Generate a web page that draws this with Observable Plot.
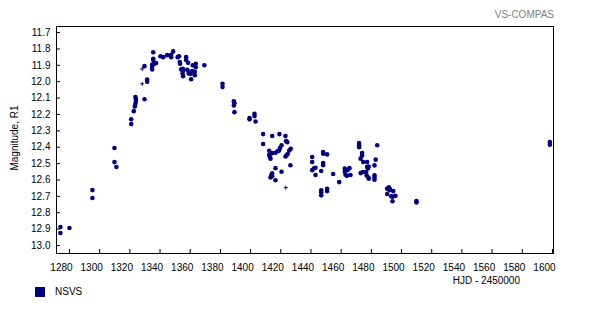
<!DOCTYPE html>
<html><head><meta charset="utf-8">
<script src="https://cdn.jsdelivr.net/npm/d3@7"></script>
<script src="https://cdn.jsdelivr.net/npm/@observablehq/plot@0.6"></script>
<style>
body{margin:0;background:#fff;font-family:"Liberation Sans",Arial,sans-serif;}
#wrap{position:relative;width:600px;height:310px;overflow:hidden;}
.t{position:absolute;font-size:10px;white-space:nowrap;line-height:12px;color:#000;}
</style></head><body><div id="wrap"></div>
<script>
// Observations (NSVS): HJD - 2450000 and R1 magnitude
const hjd = [1279.3,1279.3,1285.3,1300.5,1300.5,1315.1,1315.1,1316.4,1326.2,1326.2,1327.9,1328.6,1329.0,1329.0,1329.3,1329.3,1335.0,1335.0,1336.8,1336.8,
1340.8,1340.8,1340.8,1340.1,1340.1,1340.1,1341.6,1342.7,1345.6,1347.4,1350.0,1352.7,1352.7,1354.0,1357.0,1357.9,1358.4,1358.6,1359.3,1360.4,
1360.4,1360.6,1360.2,1362.6,1362.6,1363.9,1363.3,1364.3,1364.3,1365.5,1365.9,1366.6,1367.0,1368.3,1368.3,1369.0,1369.0,1374.7,1386.7,1386.7,
1394.2,1394.6,1394.2,1394.6,1404.6,1404.6,1407.9,1407.9,1408.6,1413.6,1413.6,1419.6,1424.4,1428.4,1429.6,1428.8,1425.8,1424.8,1424.2,1431.9,
1430.9,1429.9,1429.1,1428.4,1423.3,1421.8,1419.6,1417.6,1417.6,1418.0,1418.5,1431.7,1421.8,1425.8,1419.6,1419.0,1418.5,1419.6,1421.8,1446.1,
1446.1,1446.1,1447.2,1448.3,1448.3,1453.4,1453.4,1456.0,1453.4,1453.4,1452.1,1452.1,1452.1,1452.1,1456.0,1456.0,1460.0,1464.0,1467.7,1469.5,
1470.8,1467.7,1468.2,1469.1,1471.5,1477.2,1477.2,1477.2,1479.2,1479.2,1478.2,1479.9,1482.5,1482.5,1483.0,1483.6,1478.2,1479.7,1481.9,1482.2,
1483.3,1483.6,1487.4,1487.4,1487.4,1487.4,1488.2,1489.2,1495.8,1497.6,1497.0,1497.3,1495.8,1499.8,1498.5,1499.3,1501.3,1499.3,1515.2,1515.2,
1603.6,1603.6];
const mag = [12.887,12.924,12.893,12.662,12.710,12.405,12.491,12.521,12.229,12.259,12.180,12.151,12.135,12.094,12.105,12.118,12.107,11.905,11.987,12.000,
11.820,11.860,11.868,11.895,11.910,11.925,11.890,11.886,11.845,11.850,11.838,11.836,11.850,11.815,11.850,11.845,11.880,11.890,11.925,11.922,
11.935,11.966,11.950,11.850,11.868,11.885,11.927,11.940,11.950,11.952,11.985,11.935,11.900,11.940,11.960,11.890,11.912,11.900,12.013,12.033,
12.120,12.132,12.145,12.186,12.222,12.230,12.196,12.210,12.243,12.320,12.380,12.332,12.320,12.332,12.369,12.363,12.388,12.405,12.420,12.410,
12.420,12.442,12.450,12.457,12.424,12.434,12.436,12.422,12.446,12.458,12.470,12.510,12.528,12.550,12.560,12.572,12.585,12.578,12.602,12.460,
12.490,12.540,12.530,12.525,12.570,12.430,12.440,12.444,12.497,12.510,12.545,12.663,12.675,12.694,12.654,12.668,12.564,12.613,12.530,12.540,
12.528,12.550,12.568,12.575,12.570,12.375,12.388,12.400,12.436,12.450,12.470,12.490,12.490,12.520,12.530,12.518,12.558,12.552,12.552,12.572,
12.585,12.592,12.572,12.585,12.598,12.511,12.476,12.388,12.653,12.655,12.645,12.663,12.686,12.668,12.700,12.702,12.697,12.730,12.729,12.737,
12.369,12.385];
// uncertain observations drawn as small crosses
const crossHjd = [1333.5,1333.5,1428.6];
const crossMag = [11.922,12.013,12.647];
const xTicks = [1280,1300,1320,1340,1360,1380,1400,1420,1440,1460,1480,1500,1520,1540,1560,1580,1600];
const yTicks = [11.7,11.8,11.9,12.0,12.1,12.2,12.3,12.4,12.5,12.6,12.7,12.8,12.9,13.0];
const seriesName = "NSVS";
const title = "VS-COMPAS";
const xLabel = "HJD - 2450000";
const yLabel = "Magnitude, R1";

const pts = hjd.map((x,i)=>({x, y: mag[i]}));
const crosses = crossHjd.map((x,i)=>({x, y: crossMag[i]}));
const navy = "#000080";
const W = 600, H = 310, mL = 56, mR = 47, mT = 26, mB = 57;
const fw = W - mL - mR, fh = H - mT - mB;

const chart = Plot.plot({
  width: W, height: H,
  marginLeft: mL, marginRight: mR, marginTop: mT, marginBottom: mB,
  style: {fontFamily: '"Liberation Sans", Arial, sans-serif', fontSize: "10px", color: "#000", background: "#fff"},
  x: {domain: [1276.7, 1606]},
  y: {domain: [11.663, 13.049], reverse: true},
  marks: [
    Plot.axisX({ticks: xTicks, tickSize: 0, tickPadding: 10, tickFormat: d => String(d), label: null}),
    Plot.axisY({ticks: yTicks, tickSize: 0, tickPadding: 6, tickFormat: d3.format(".1f"), label: null}),
    Plot.ruleX(xTicks, {x: d => d, dx: 8, insetTop: fh - 4, stroke: "#000"}),
    Plot.ruleY(yTicks, {y: d => d, insetRight: fw - 4, stroke: "#000"}),
    Plot.dot(pts, {x: "x", y: "y", r: 2.3, fill: navy, stroke: "none"}),
    Plot.dot(crosses, {x: "x", y: "y", symbol: "plus", r: 1.4, stroke: navy, strokeWidth: 1}),
    Plot.frame({stroke: "#000"})
  ]
});
const wrap = document.getElementById("wrap");
wrap.appendChild(chart);

function addText(txt, css){const d=document.createElement("div");d.className="t";d.textContent=txt;Object.assign(d.style,css);wrap.appendChild(d);return d;}
addText(title, {right: "46px", top: "9px", color: "#808080"});
addText(xLabel, {right: "80px", top: "275px"});
addText(seriesName, {left: "55px", top: "286px"});
const sq = document.createElement("div");
Object.assign(sq.style, {position:"absolute", left:"35px", top:"287px", width:"10px", height:"10px", background: navy});
wrap.appendChild(sq);
const yl = addText(yLabel, {left: "15px", top: "138px", transform: "translate(-50%,-50%) rotate(-90deg)"});
</script>
</body></html>
